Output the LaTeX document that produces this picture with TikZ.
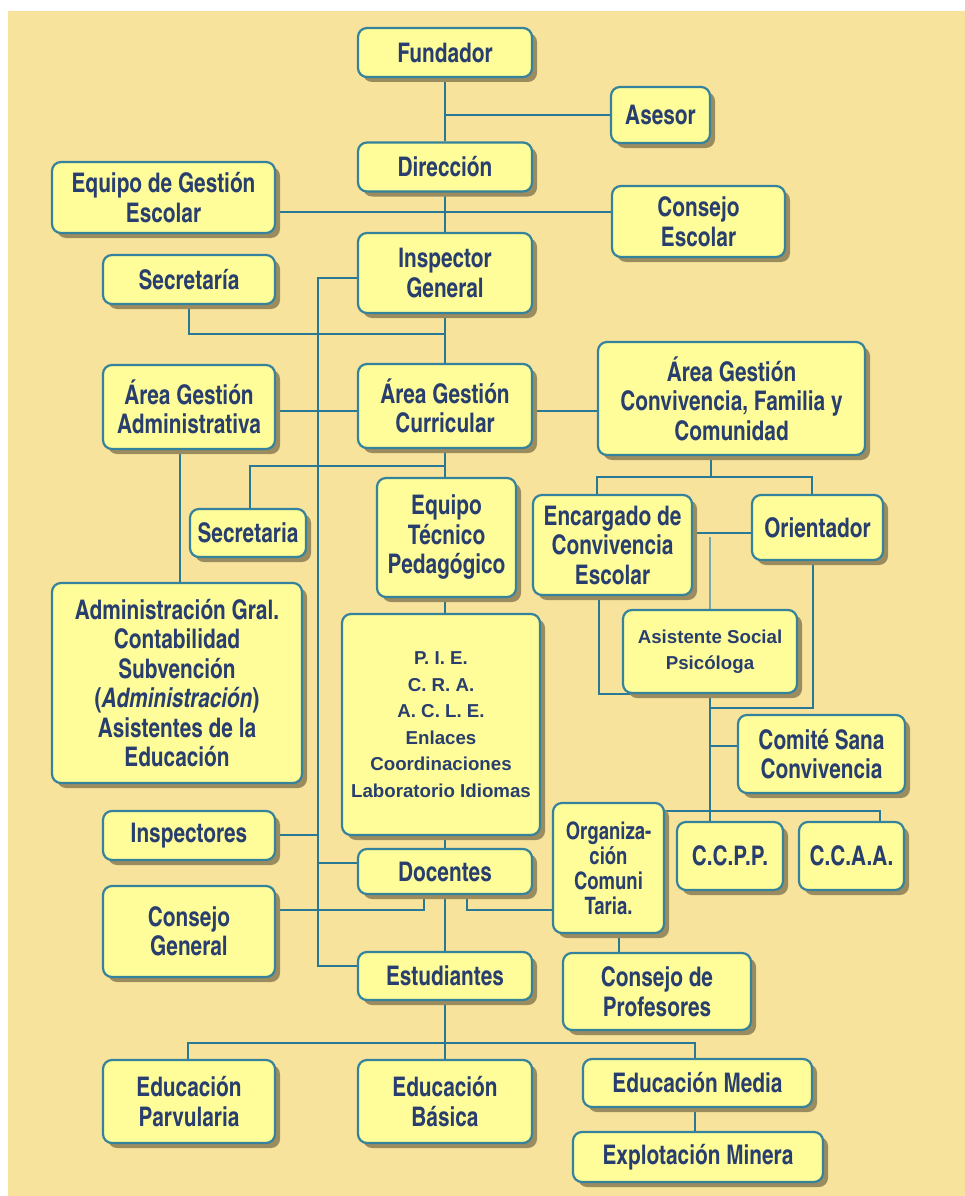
\documentclass[tikz,border=0pt]{standalone}
\usepackage{fontspec}
\setmainfont{texgyreheroscn}[Extension=.otf, UprightFont=*-bold, BoldFont=*-bold, ItalicFont=*-bolditalic, BoldItalicFont=*-bolditalic, FakeStretch=0.94]
\newfontfamily\arialf{Liberation Sans}[UprightFont=* Bold]
\usetikzlibrary{shadows}
\definecolor{bgc}{RGB}{247,227,155}
\definecolor{boxc}{RGB}{255,253,153}
\definecolor{bordc}{RGB}{52,130,155}
\definecolor{txtc}{RGB}{40,62,110}
\definecolor{shadc}{RGB}{155,140,95}
\definecolor{linec}{RGB}{40,120,150}
\definecolor{lightc}{RGB}{120,170,170}
\pgfdeclarelayer{bg}
\pgfsetlayers{bg,main}
\newcommand\mainsz{\fontsize{27}{29.5}\selectfont}
\newcommand\smallsz{\arialf\fontsize{18.7}{26.5}\selectfont}
\tikzset{
  box/.style={draw=bordc, line width=2.2pt, fill=boxc, rounded corners=9pt,
    drop shadow={shadow xshift=5pt, shadow yshift=-5pt, fill=shadc, opacity=1},
    align=center, text=txtc, inner sep=0pt, font=\mainsz},
  conn/.style={draw=linec, line width=1.8pt}
}
\begin{document}
\begin{tikzpicture}[x=1pt,y=-1pt]
\useasboundingbox (0,0) rectangle (965,1196);
\begin{pgfonlayer}{bg}
\fill[white] (0,0) rectangle (965,1196);
\fill[bgc] (8,11) rectangle (965,1196);
\end{pgfonlayer}
% nodes
\node[box, minimum width=174pt, minimum height=49pt] (fund) at (445,52.5) {Fundador};
\node[box, minimum width=99pt, minimum height=56pt] (ases) at (660.5,115) {Asesor};
\node[box, minimum width=174pt, minimum height=49pt] (dir) at (445,167) {Dirección};
\node[box, minimum width=223pt, minimum height=71pt] (egse) at (163.5,197.5) {Equipo de Gestión\\Escolar};
\node[box, minimum width=173pt, minimum height=71pt] (cesc) at (698.5,221.5) {Consejo\\Escolar};
\node[box, minimum width=174pt, minimum height=80pt] (insp) at (445,273) {Inspector\\General};
\node[box, minimum width=172pt, minimum height=49pt] (secr1) at (189,279.5) {Secretaría};
\node[box, minimum width=172pt, minimum height=84pt] (aga) at (189,407) {Área Gestión\\Administrativa};
\node[box, minimum width=174pt, minimum height=84pt] (agc) at (445,406) {Área Gestión\\Curricular};
\node[box, minimum width=267pt, minimum height=113pt] (agcf) at (731.5,398.5) {Área Gestión\\Convivencia, Familia y\\Comunidad};
\node[box, minimum width=116pt, minimum height=48pt] (secr2) at (248,533) {Secretaria};
\node[box, minimum width=139pt, minimum height=119pt] (etp) at (446.5,537.5) {Equipo\\Técnico\\Pedagógico};
\node[box, minimum width=159pt, minimum height=100pt] (enc) at (612.5,545) {Encargado de\\Convivencia\\Escolar};
\node[box, minimum width=131pt, minimum height=65pt] (ori) at (817.5,527.5) {Orientador};
\node[box, minimum width=174pt, minimum height=83pt, font=\smallsz] (asis) at (710,651.5) {Asistente Social\\Psicóloga};
\node[box, minimum width=167pt, minimum height=78pt] (comite) at (821.5,754) {Comité Sana\\Convivencia};
\node[box, minimum width=250pt, minimum height=200pt] (admin) at (177,683) {Administración Gral.\\Contabilidad\\Subvención\\(\textit{Administración})\\Asistentes de la\\Educación};
\node[box, minimum width=198pt, minimum height=221pt, font=\smallsz] (pie) at (441,724.5) {P. I. E.\\C. R. A.\\A. C. L. E.\\Enlaces\\Coordinaciones\\Laboratorio Idiomas};
\node[box, minimum width=172pt, minimum height=49pt] (inspectores) at (189,835.5) {Inspectores};
\node[box, minimum width=174pt, minimum height=45pt] (doc) at (445,871.5) {Docentes};
\node[box, minimum width=111pt, minimum height=130pt, font=\fontsize{24}{25}\selectfont] (org) at (608.5,868) {Organiza-\\ción\\Comuni\\Taria.};
\node[box, minimum width=106pt, minimum height=68pt] (ccpp) at (730,856) {C.C.P.P.};
\node[box, minimum width=105pt, minimum height=68pt] (ccaa) at (851.5,856) {C.C.A.A.};
\node[box, minimum width=172pt, minimum height=91pt] (cgen) at (189,931.5) {Consejo\\General};
\node[box, minimum width=174pt, minimum height=48pt] (est) at (445,976) {Estudiantes};
\node[box, minimum width=188pt, minimum height=77pt] (cprof) at (657,991.5) {Consejo de\\Profesores};
\node[box, minimum width=172pt, minimum height=83pt] (epar) at (189,1101.5) {Educación\\Parvularia};
\node[box, minimum width=174pt, minimum height=83pt] (ebas) at (445,1101.5) {Educación\\Básica};
\node[box, minimum width=229pt, minimum height=48pt] (emed) at (697.5,1083) {Educación Media};
\node[box, minimum width=250pt, minimum height=50pt] (emin) at (698,1157) {Explotación Minera};
% connectors
\begin{pgfonlayer}{bg}
\draw[conn] (fund) -- (dir);
\draw[conn] (ases.west) -- (ases.west -| fund.south);
\draw[conn] (dir) -- (insp);
\draw[conn] (egse.east |- 0,212) -- (cesc.west |- 0,212);
\draw[conn] (insp) -- (agc);
\draw[conn] (secr1.south) |- (insp.south |- 0,334);
\draw[conn] (insp.west |- 0,278) -| (318,966) -- (est.west |- 0,966);
\draw[conn] (inspectores.east |- 0,835) -- (318,835);
\draw[conn] (doc.west |- 0,863) -- (318,863);
\draw[conn] (aga.east |- 0,411) -- (agc.west |- 0,411);
\draw[conn] (agc.east |- 0,411) -- (agcf.west |- 0,411);
\draw[conn] (aga.south -| 180,0) -- (admin.north -| 180,0);
\draw[conn] (agc.south) -- (agc.south |- etp.north);
\draw[conn] (secr2.north -| 250,0) |- (agc.south |- 0,466);
\draw[conn] (etp.south -| 445,0) -- (pie.north -| 445,0);
\draw[conn] (pie.south -| 445,0) -- (doc.north);
\draw[conn] (agcf.south -| 711,0) -- (711,477);
\draw[conn] (enc.north -| 597,0) |- (812,477) -- (ori.north -| 812,0);
\draw[conn] (enc.east |- 0,533) -- (ori.west |- 0,533);
\draw[conn, draw=lightc] (710,537) -- (asis.north -| 710,0);
\draw[conn] (enc.south -| 599,0) |- (asis.south -| 710,0);
\draw[conn] (ori.south -| 813,0) |- (710,708);
\draw[conn] (asis.south -| 710,0) -- (ccpp.north -| 710,0);
\draw[conn] (710,746) -- (comite.west |- 0,746);
\draw[conn] (org.east |- 0,811) -| (ccaa.north -| 880,0);
\draw[conn] (doc.south -| 424,0) |- (cgen.east |- 0,910);
\draw[conn] (doc.south -| 467,0) |- (org.west |- 0,910);
\draw[conn] (doc) -- (est);
\draw[conn] (org.south -| 619,0) -- (cprof.north -| 619,0);
\draw[conn] (est.south) -- (445,1043);
\draw[conn] (epar.north -| 188,0) |- (695,1043) -- (emed.north -| 695,0);
\draw[conn] (ebas.north) -- (445,1043);
\draw[conn] (emed.south -| 695,0) -- (emin.north -| 695,0);
\end{pgfonlayer}
\end{tikzpicture}
\end{document}
